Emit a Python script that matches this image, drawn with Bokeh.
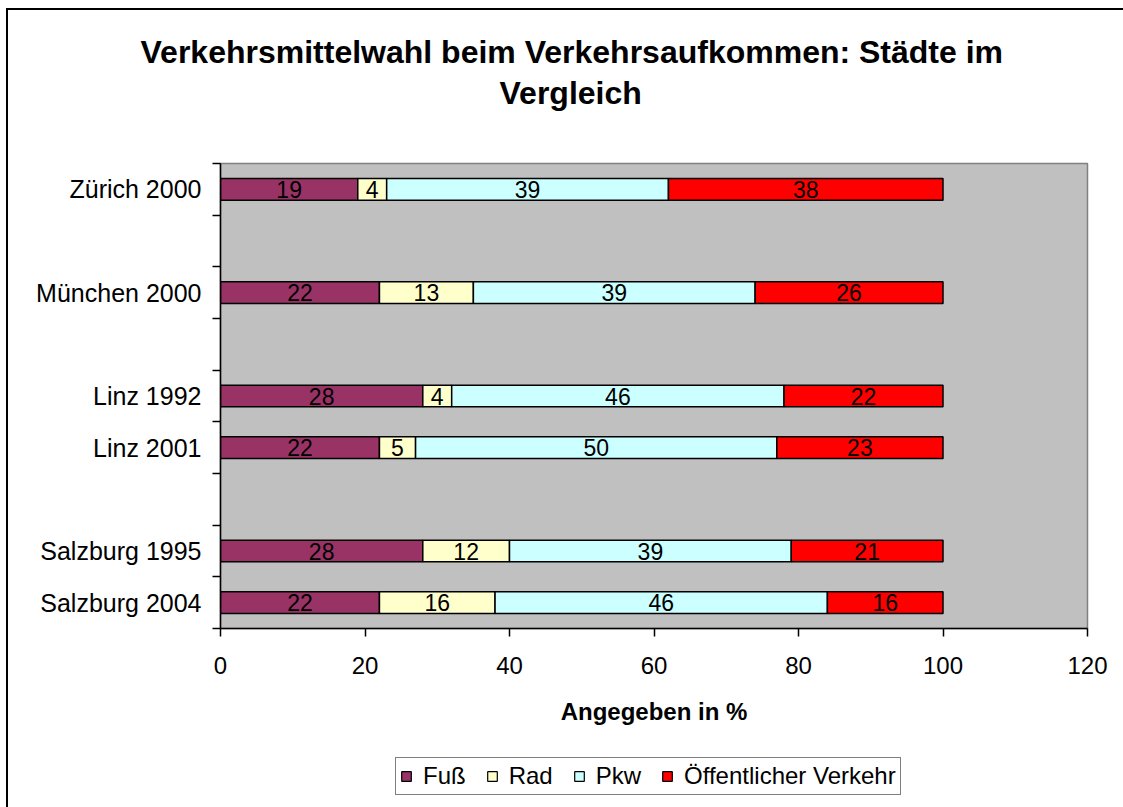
from bokeh.plotting import figure
from bokeh.layouts import column
from bokeh.models import (ColumnDataSource, Range1d, FixedTicker, Title, Legend,
                          LegendItem)
from bokeh.core.properties import value
from bokeh.embed import file_html
from bokeh.resources import INLINE

# ---- data ----
cities = ["Zürich 2000", "München 2000", "Linz 1992", "Linz 2001",
          "Salzburg 1995", "Salzburg 2004"]
# category rows from top to bottom, empty strings are gaps in the chart
row_slots = ["Zürich 2000", "", "München 2000", "", "Linz 1992", "Linz 2001",
             "", "Salzburg 1995", "Salzburg 2004"]
series = ["Fuß", "Rad", "Pkw", "Öffentlicher Verkehr"]
fuss = [19, 22, 28, 22, 28, 22]
rad = [4, 13, 4, 5, 12, 16]
pkw = [39, 39, 46, 50, 39, 46]
oev = [38, 26, 22, 23, 21, 16]
colors = ["#993366", "#FFFFCC", "#CCFFFF", "#FF0000"]
x_ticks = [0, 20, 40, 60, 80, 100, 120]
title_lines = ["Verkehrsmittelwahl beim Verkehrsaufkommen: Städte im", "Vergleich"]
x_label = "Angegeben in %"

FONT = "Liberation Sans"

ypos = [row_slots.index(c) for c in cities]
data = dict(y=ypos, city=cities)
for name, vals in zip(series, [fuss, rad, pkw, oev]):
    data[name] = vals
source = ColumnDataSource(data)

p = figure(frame_width=867, frame_height=465,
           x_range=Range1d(0, 120), y_range=Range1d(len(row_slots) - 0.5, -0.5),
           output_backend="svg", toolbar_location=None,
           min_border_left=212, min_border_right=36,
           min_border_top=153, min_border_bottom=120)
p.background_fill_color = "#C0C0C0"
p.border_fill_color = "white"
p.outline_line_color = "#808080"
p.outline_line_width = 1.5
p.xgrid.visible = False
p.ygrid.visible = False

renderers = p.hbar_stack(series, y="y", height=0.42, color=colors, source=source,
                         line_color="black", line_width=1.5)

# data labels
lx, ly, lt = [], [], []
for i in range(len(cities)):
    start = 0
    for vals in [fuss, rad, pkw, oev]:
        v = vals[i]
        lx.append(start + v / 2)
        ly.append(ypos[i])
        lt.append(str(v))
        start += v
p.text(x=lx, y=ly, text=lt, text_align="center", text_baseline="middle",
       text_font=value(FONT), text_font_size="23px", text_color="black")

# x axis
xa = p.xaxis[0]
xa.ticker = FixedTicker(ticks=x_ticks)
xa.axis_line_color = "black"
xa.axis_line_width = 1.5
xa.major_tick_in = 0
xa.major_tick_out = 8
xa.major_tick_line_color = "black"
xa.major_tick_line_width = 1.5
xa.minor_tick_line_color = None
xa.major_label_standoff = 20
xa.major_label_text_font = FONT
xa.major_label_text_font_size = "24px"
xa.major_label_text_color = "black"
xa.axis_label = x_label
xa.axis_label_text_font = FONT
xa.axis_label_text_font_size = "24px"
xa.axis_label_text_font_style = "bold"
xa.axis_label_text_color = "black"
xa.axis_label_standoff = 21

# y axis
ya = p.yaxis[0]
ya.ticker = FixedTicker(ticks=ypos,
                        minor_ticks=[i - 0.5 for i in range(len(row_slots) + 1)])
ya.major_label_overrides = {yy: c for yy, c in zip(ypos, cities)}
ya.axis_line_color = "black"
ya.axis_line_width = 1.5
ya.major_tick_in = 0
ya.major_tick_out = 0
ya.major_tick_line_color = None
ya.minor_tick_in = 0
ya.minor_tick_out = 8
ya.minor_tick_line_color = "black"
ya.minor_tick_line_width = 1.5
ya.major_label_standoff = 11
ya.major_label_text_font = FONT
ya.major_label_text_font_size = "25px"
ya.major_label_text_color = "black"

# title: first added is closest to the plot
p.add_layout(Title(text=title_lines[1], align="left", offset=279, standoff=106,
                   text_font=FONT, text_font_size="32px", text_font_style="bold",
                   text_color="black"), "above")
p.add_layout(Title(text=title_lines[0], align="left", offset=-80, standoff=-101,
                   text_font=FONT, text_font_size="32px", text_font_style="bold",
                   text_color="black"), "above")

# legend strip below the chart (own small canvas; its frame aligns with the chart's)
LEG_W, LEG_H = 1115, 59
p2 = figure(width=LEG_W, height=LEG_H, x_range=Range1d(0, 120),
            y_range=Range1d(0, LEG_H), output_backend="svg",
            toolbar_location=None, x_axis_type=None, y_axis_type=None,
            min_border=0)
p2.outline_line_color = None
p2.background_fill_color = "white"
p2.border_fill_color = "white"
p2.xgrid.visible = False
p2.ygrid.visible = False
# same stacked bars, mapped onto a range that lies outside the strip (only feed the legend)
p2.extra_y_ranges = {"hidden": Range1d(1000, 1001)}
leg_renderers = p2.hbar_stack(series, y="y", height=0.42, color=colors, source=source,
                              line_color="black", line_width=1.2,
                              y_range_name="hidden")
legend = Legend(items=[LegendItem(label=s, renderers=[r])
                       for s, r in zip(series, leg_renderers)],
                orientation="horizontal", location=(175, 12),
                label_text_font=FONT, label_text_font_size="24px",
                label_text_color="black",
                glyph_width=12, glyph_height=12, label_standoff=11, spacing=20,
                padding=4, margin=0,
                border_line_color="black", border_line_width=1.2,
                background_fill_color="white", background_fill_alpha=1.0)
p2.add_layout(legend, "center")

layout = column(p, p2, spacing=0,
                styles={"margin-left": "6px", "margin-top": "8px",
                        "border-left": "2px solid #000000",
                        "border-top": "2px solid #000000"})

open("out.html", "w").write(file_html(layout, INLINE))
